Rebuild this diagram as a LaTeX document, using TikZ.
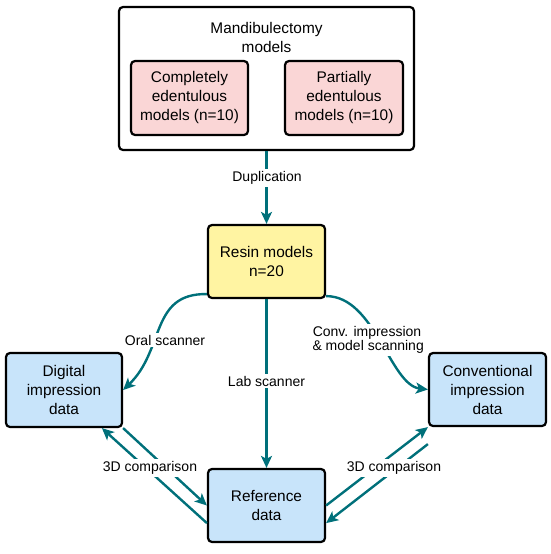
\documentclass[tikz,border=0pt]{standalone}
\usepackage{fontspec}
\setmainfont{Liberation Sans}
\usetikzlibrary{arrows.meta,calc}
\definecolor{teal}{RGB}{0,112,122}
\definecolor{pinkfill}{RGB}{250,214,214}
\definecolor{yellowfill}{RGB}{255,244,162}
\definecolor{bluefill}{RGB}{200,228,250}
\tikzset{
  box/.style={draw=black, line width=2.2pt, rounded corners=4pt, align=center,
    font=\fontsize{15.4}{19}\selectfont, inner sep=2pt},
  conn/.style={draw=teal, line width=2.4pt,
    -{Stealth[length=12pt,width=11pt,inset=3pt]}},
  lbl/.style={fill=white, inner sep=2pt, align=center,
    font=\fontsize{14}{14.5}\selectfont},
}
\begin{document}
\begin{tikzpicture}[x=1pt,y=-1pt]
\useasboundingbox (0,0) rectangle (550,554);
% boxes
\node[box, fill=white, minimum width=295pt, minimum height=143pt] (outer) at (266.5,78.5) {};
\node[align=center, font=\fontsize{15.4}{19}\selectfont] (title) at (266.5,37.5) {Mandibulectomy\\models};
\node[box, fill=pinkfill, minimum width=117pt, minimum height=74pt] (pl) at (189.5,98) {Completely\\edentulous\\models (n=10)};
\node[box, fill=pinkfill, minimum width=118pt, minimum height=74pt] (pr) at (344,98) {Partially\\edentulous\\models (n=10)};
\node[box, fill=yellowfill, minimum width=117pt, minimum height=73pt] (res) at (266.5,261.5) {Resin models\\n=20};
\node[box, fill=bluefill, minimum width=116pt, minimum height=74pt] (dig) at (64,390) {Digital\\impression\\data};
\node[box, fill=bluefill, minimum width=117pt, minimum height=73pt] (conv) at (487.5,389.5) {Conventional\\impression\\data};
\node[box, fill=bluefill, minimum width=117pt, minimum height=73pt] (ref) at (266.5,505.5) {Reference\\data};
% coordinates
\coordinate (rsw) at ($(res.south west)+(0,-5)$);
\coordinate (rse) at ($(res.south east)+(0,-3)$);
\coordinate (refL1) at ($(ref.south west)+(0,-20)$);
\coordinate (digB) at ($(dig.south west)+(97,0)$);
\coordinate (refR1) at ($(ref.south east)+(0,-20)$);
\coordinate (convB) at ($(conv.south west)+(0,17)$);
% connectors
\draw[conn] (outer.south) -- (res.north);
\draw[conn] (res.south) -- (ref.north);
\draw[conn] (rsw) .. controls (150,293) and (165,350) .. (dig.east);
\draw[conn] (rse) .. controls (375,296) and (390,385) .. (conv.west);
\draw[conn] (refL1) -- (digB);
\draw[conn] (dig.south east) -- (ref.west);
\draw[conn] (ref.east) -- (conv.south west);
\draw[conn] (convB) -- (refR1);
% labels
\node[lbl] (l1) at (267,178) {Duplication};
\node[lbl] (l2) at (165,340) {Oral scanner};
\node[lbl] (l3) at (266.5,381) {Lab scanner};
\node[lbl, font=\fontsize{14}{14}\selectfont] (l4) at (367,340) {Conv. impression\\\,\& model scanning};
\node[lbl] (l5) at (150,468) {3D comparison};
\node[lbl] (l6) at (394,468) {3D comparison};
\end{tikzpicture}
\end{document}
